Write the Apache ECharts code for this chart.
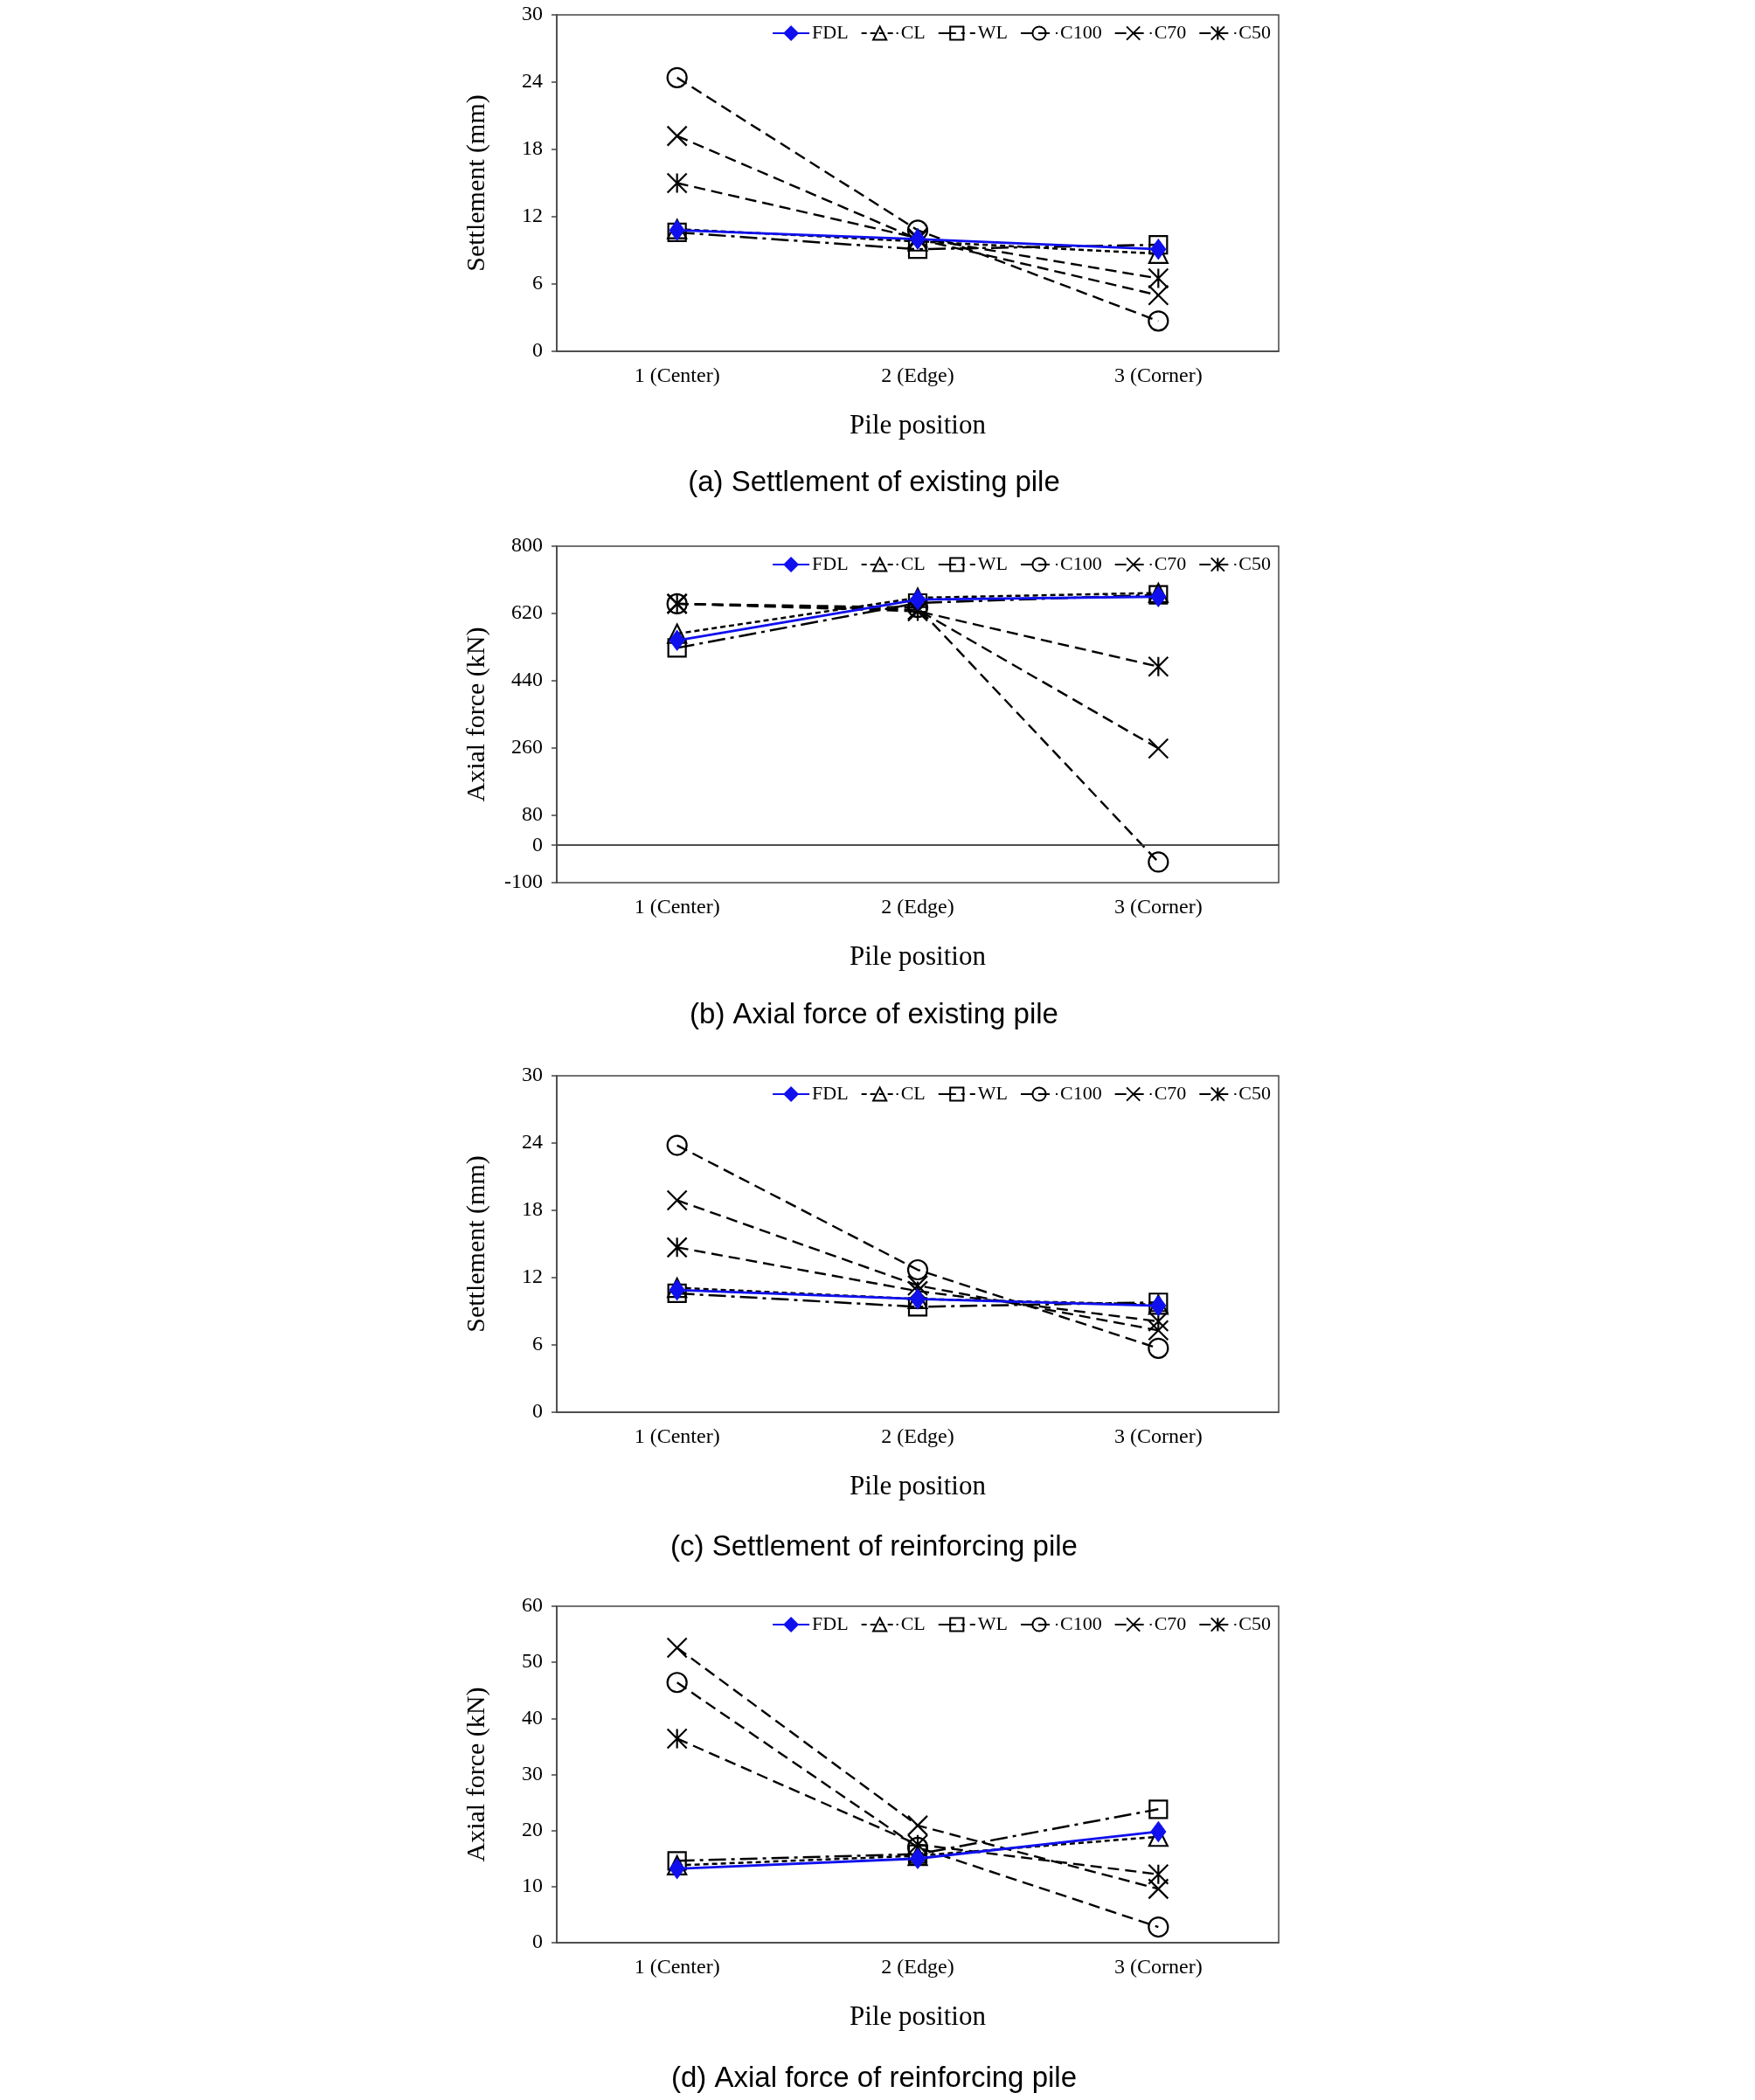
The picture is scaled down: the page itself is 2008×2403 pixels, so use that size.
<!DOCTYPE html>
<html>
<head>
<meta charset="utf-8">
<script src="https://cdn.jsdelivr.net/npm/echarts@6/dist/echarts.min.js"></script>
<style>
html,body{margin:0;padding:0;background:#fff;}
#chart{width:2008px;height:2403px;}
</style>
</head>
<body>
<div id="chart"></div>
<script>
// ---- data ----
var categories = ['1 (Center)', '2 (Edge)', '3 (Corner)'];
var seriesNames = ['FDL', 'CL', 'WL', 'C100', 'C70', 'C50'];

// (a) Settlement of existing pile (mm)
var aFDL  = [10.8, 10.0, 9.1];
var aCL   = [10.9, 9.8, 8.7];
var aWL   = [10.6, 9.1, 9.5];
var aC100 = [24.4, 10.8, 2.7];
var aC70  = [19.2, 10.0, 5.0];
var aC50  = [15.0, 10.1, 6.5];

// (b) Axial force of existing pile (kN)
var bFDL  = [548, 657, 665];
var bCL   = [566, 662, 675];
var bWL   = [528, 648, 670];
var bC100 = [646, 636, -45];
var bC70  = [646, 630, 259];
var bC50  = [646, 626, 478];

// (c) Settlement of reinforcing pile (mm)
var cFDL  = [10.9, 10.1, 9.5];
var cCL   = [11.1, 10.1, 9.6];
var cWL   = [10.6, 9.4, 9.8];
var cC100 = [23.8, 12.7, 5.7];
var cC70  = [18.9, 11.3, 7.3];
var cC50  = [14.7, 10.8, 8.1];

// (d) Axial force of reinforcing pile (kN)
var dFDL  = [13.2, 15.0, 19.8];
var dCL   = [13.8, 15.5, 18.9];
var dWL   = [14.6, 15.8, 23.8];
var dC100 = [46.4, 17.0, 2.8];
var dC70  = [52.6, 20.9, 9.6];
var dC50  = [36.4, 17.5, 12.2];

// tick labels
var ticksSettlement = [0, 6, 12, 18, 24, 30];
var ticksAxialExisting = [-100, 0, 80, 260, 440, 620, 800];
var ticksAxialReinf = [0, 10, 20, 30, 40, 50, 60];

var captions = ['(a) Settlement of existing pile', '(b) Axial force of existing pile',
                '(c) Settlement of reinforcing pile', '(d) Axial force of reinforcing pile'];
var yNames = ['Settlement (mm)', 'Axial force (kN)', 'Settlement (mm)', 'Axial force (kN)'];
var xName = 'Pile position';

// ---- layout / styles ----
var SERIF = 'Liberation Serif';
var panelTops = [17, 625, 1231, 1838];
var gridH = 385;
var gridLeft = 637, gridW = 826;
var captionY = [553, 1162, 1771, 2379];

var symX = 'path://M0,0L20,20M20,0L0,20';
var symAst = 'path://M0,0L20,20M20,0L0,20M10,0L10,20';
var dash = [13, 7];
var styles = {
  FDL:  {symbol: 'diamond', size: [17, 23], line: {color: '#1010ee', width: 2.8, type: 'solid'}, item: {color: '#1010ee', borderColor: '#1010ee', borderWidth: 1}},
  CL:   {symbol: 'triangle', size: 21, line: {color: '#000', width: 2.5, type: [6, 4]}, item: {color: 'rgba(0,0,0,0)', borderColor: '#000', borderWidth: 2.2}},
  WL:   {symbol: 'rect', size: 20, line: {color: '#000', width: 2.5, type: [20, 6, 4, 6]}, item: {color: 'rgba(0,0,0,0)', borderColor: '#000', borderWidth: 2.2}},
  C100: {symbol: 'circle', size: 22, line: {color: '#000', width: 2.4, type: dash}, item: {color: 'rgba(0,0,0,0)', borderColor: '#000', borderWidth: 2.2}},
  C70:  {symbol: symX, size: 22, line: {color: '#000', width: 2.4, type: dash}, item: {color: 'rgba(0,0,0,0)', borderColor: '#000', borderWidth: 2.2}},
  C50:  {symbol: symAst, size: 22, line: {color: '#000', width: 2.4, type: dash}, item: {color: 'rgba(0,0,0,0)', borderColor: '#000', borderWidth: 2.2}}
};

var panelData = [
  [aFDL, aCL, aWL, aC100, aC70, aC50],
  [bFDL, bCL, bWL, bC100, bC70, bC50],
  [cFDL, cCL, cWL, cC100, cC70, cC50],
  [dFDL, dCL, dWL, dC100, dC70, dC50]
];
var panelTicks = [ticksSettlement, ticksAxialExisting, ticksSettlement, ticksAxialReinf];

var grids = [], xAxes = [], yAxes = [], series = [], legends = [], graphics = [];

for (var p = 0; p < 4; p++) {
  var ticks = panelTicks[p];
  grids.push({left: gridLeft, top: panelTops[p], width: gridW, height: gridH,
    show: true, borderColor: '#444', borderWidth: 1.5, backgroundColor: 'transparent'});
  xAxes.push({
    gridIndex: p, type: 'category', data: categories, boundaryGap: true,
    axisLine: {show: true, lineStyle: {color: '#444', width: 1.5}},
    axisTick: {show: false},
    axisLabel: {fontFamily: SERIF, fontSize: 24, color: '#000', margin: 17},
    name: xName, nameLocation: 'middle', nameGap: 70,
    nameTextStyle: {fontFamily: SERIF, fontSize: 31, color: '#000'}
  });
  yAxes.push({
    gridIndex: p, type: 'value',
    min: ticks[0], max: ticks[ticks.length - 1],
    axisLine: {show: true, lineStyle: {color: '#444', width: 1.5}},
    axisTick: {show: true, length: 6, lineStyle: {color: '#444', width: 1.5}, customValues: ticks},
    axisLabel: {fontFamily: SERIF, fontSize: 24, color: '#000', margin: 16, customValues: ticks},
    splitLine: {show: false},
    name: yNames[p], nameLocation: 'middle', nameGap: 76,
    nameTextStyle: {fontFamily: SERIF, fontSize: 30, color: '#000'}
  });
  for (var s = 0; s < seriesNames.length; s++) {
    var nm = seriesNames[s];
    var st = styles[nm];
    var ser = {
      name: nm, type: 'line', xAxisIndex: p, yAxisIndex: p,
      data: panelData[p][s],
      symbol: st.symbol, symbolSize: st.size,
      lineStyle: st.line, itemStyle: st.item,
      z: nm === 'FDL' ? 3 : 2,
      animation: false
    };
    if (p === 1 && nm === 'C100') {
      ser.markLine = {
        silent: true, symbol: 'none', label: {show: false},
        lineStyle: {color: '#444', width: 1.5, type: 'solid'},
        data: [{yAxis: 0}]
      };
    }
    series.push(ser);
  }
  legends.push({
    data: seriesNames, right: 2008 - gridLeft - gridW + 4, top: panelTops[p] + 5,
    orient: 'horizontal', itemWidth: 42, itemHeight: 19, itemGap: 14,
    textStyle: {fontFamily: SERIF, fontSize: 22, color: '#000', padding: [0, 0, 0, -2]},
    selectedMode: false
  });
  graphics.push({
    type: 'text', x: 1000, y: captionY[p],
    style: {text: captions[p], font: '33px "Liberation Sans"', fill: '#000',
            textAlign: 'center', textVerticalAlign: 'middle'}
  });
}

var chart = echarts.init(document.getElementById('chart'), null, {renderer: 'canvas'});
chart.setOption({
  backgroundColor: '#fff',
  animation: false,
  grid: grids, xAxis: xAxes, yAxis: yAxes, series: series,
  legend: legends, graphic: graphics
});
</script>
</body>
</html>
